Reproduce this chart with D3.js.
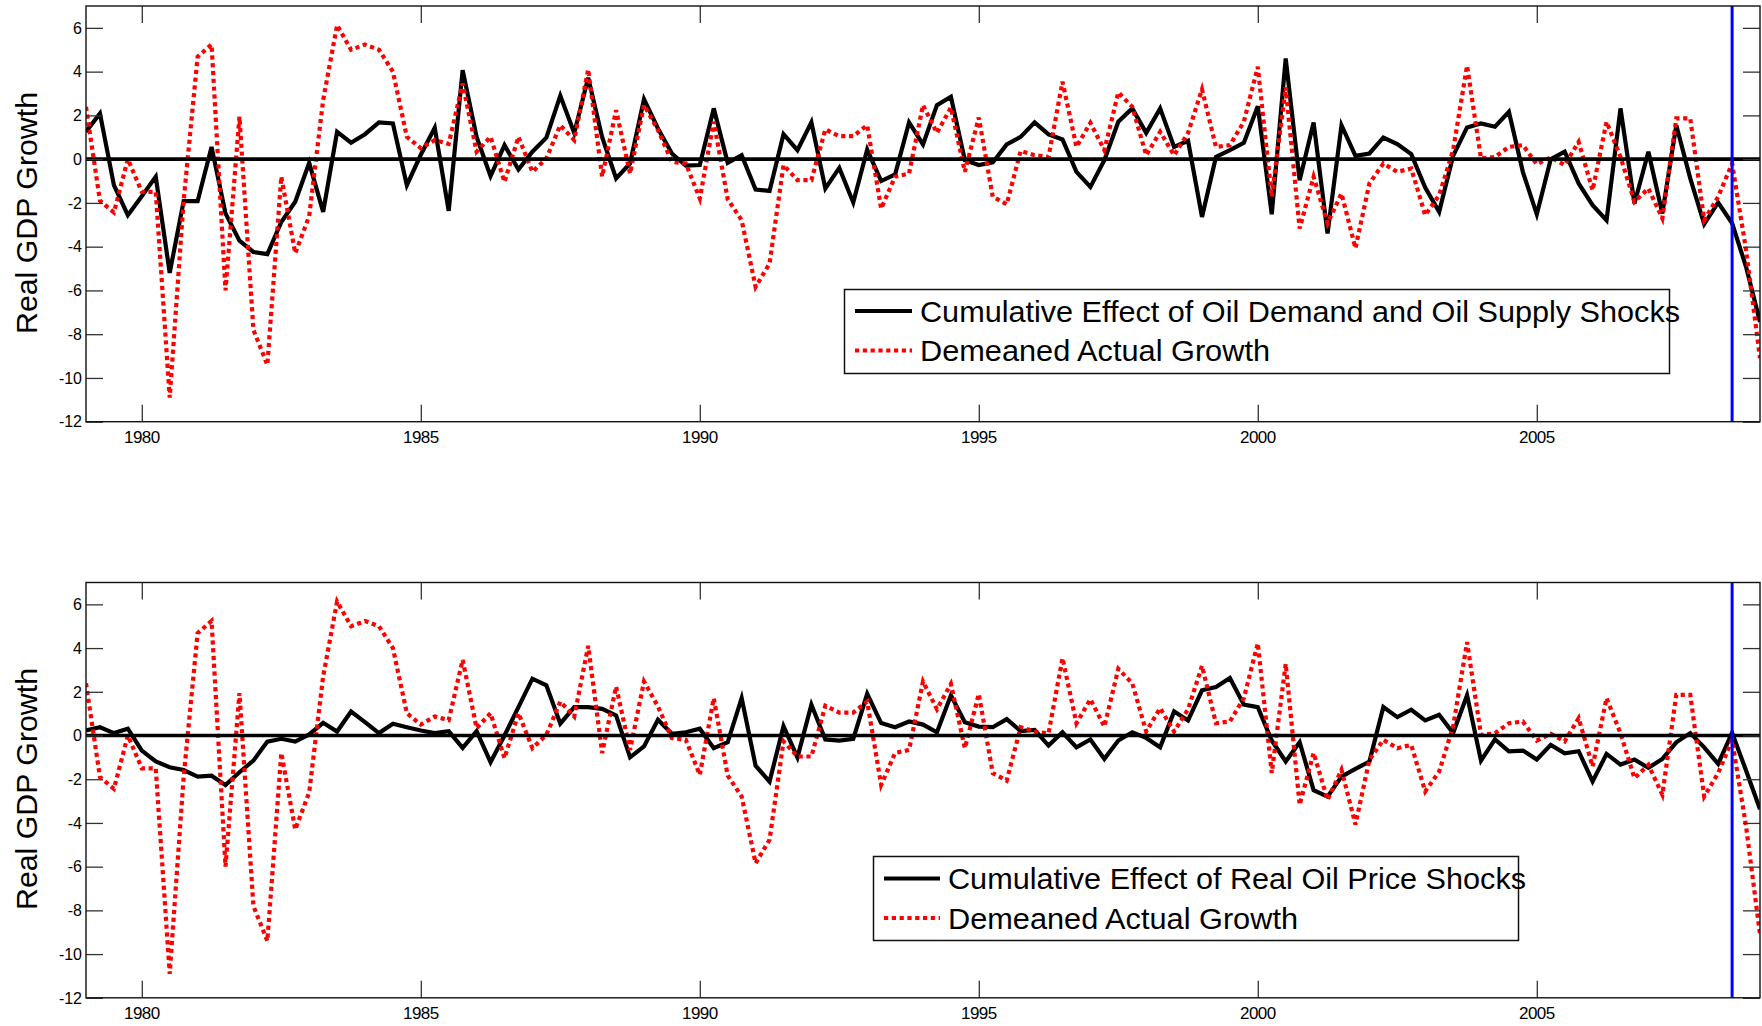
<!DOCTYPE html>
<html><head><meta charset="utf-8">
<script src="https://cdn.jsdelivr.net/npm/d3@7/dist/d3.min.js"></script>
<style>
body{margin:0;background:#fff}
text{font-family:"Liberation Sans",Arial,Helvetica,sans-serif;fill:#000}
</style>
</head><body>
<svg id="chart" width="1762" height="1026"></svg>
<script>
// ---------- data (quarterly, first observation plotted at 1979.0) ----------
const startDate = 1979.0;
const stepYears = 0.25;

const demeanedGrowth = [
  2.39, -1.9, -2.44, 0.0,
  -1.5, -1.5, -10.9, -1.9,
  4.68, 5.24, -6.0, 1.94,
  -7.8, -9.4, -0.8, -4.3,
  -2.6, 2.7, 6.13, 5.0,
  5.24, 5.0, 4.0, 1.02,
  0.5, 0.87, 0.7, 3.46,
  0.34, 1.02, -1.04, 1.02,
  -0.58, 0.03, 1.55, 0.87,
  4.1, -0.8, 2.24, -0.66,
  2.47, 1.33, -0.12, -0.2,
  -1.8, 1.71, -1.83, -2.79,
  -5.84, -4.77, -0.27, -0.96,
  -0.96, 1.36, 1.05, 1.05,
  1.55, -2.26, -0.8, -0.66,
  2.47, 1.2, 2.36, -0.58,
  1.9, -1.72, -2.06, 0.38,
  0.18, 0.1, 3.54, 0.56,
  1.66, 0.41, 3.05, 2.39,
  0.18, 1.25, 0.18, 1.2,
  3.19, 0.56, 0.64, 1.71,
  4.22, -1.72, 3.28, -3.17,
  -0.8, -2.94, -1.57, -4.07,
  -1.11, -0.2, -0.58, -0.43,
  -2.56, -1.65, 0.41, 4.27,
  0.03, 0.1, 0.56, 0.64,
  -0.23, 0.08, -0.27, 0.79,
  -1.42, 1.71, 0.1, -1.95,
  -1.34, -2.71, 1.86, 1.86,
  -2.79, -1.72, -0.2, -4.15,
  -9.1
];

const oilDemandSupplyEffect = [
  1.25, 2.09, -1.19, -2.56,
  -1.7, -0.8, -5.2, -1.92,
  -1.92, 0.56, -2.48, -3.73,
  -4.24, -4.34, -2.87, -1.95,
  -0.17, -2.41, 1.25, 0.75,
  1.14, 1.68, 1.63, -1.19,
  0.2, 1.43, -2.36, 4.07,
  1.02, -0.78, 0.64, -0.47,
  0.34, 0.98, 2.9, 1.2,
  3.72, 1.0, -0.88, -0.2,
  2.74, 1.4, 0.26, -0.3,
  -0.27, 2.32, -0.17, 0.18,
  -1.39, -1.45, 1.14, 0.41,
  1.68, -1.34, -0.4, -1.98,
  0.44, -1.0, -0.7, 1.68,
  0.67, 2.47, 2.85, -0.05,
  -0.27, -0.15, 0.67, 1.02,
  1.68, 1.13, 0.9, -0.58,
  -1.27, -0.05, 1.71, 2.32,
  1.2, 2.32, 0.56, 0.84,
  -2.64, 0.1, 0.41, 0.75,
  2.42, -2.52, 4.6, -0.96,
  1.68, -3.4, 1.55, 0.15,
  0.26, 0.99, 0.69, 0.23,
  -1.3, -2.41, 0.15, 1.45,
  1.63, 1.48, 2.16, -0.58,
  -2.52, 0.0, 0.34, -1.11,
  -2.1, -2.79, 2.32, -2.03,
  0.34, -2.48, 1.55, -0.88,
  -2.97, -1.98, -2.93, -4.92,
  -7.44
];

const realOilPriceEffect = [
  0.23, 0.38, 0.11, 0.31,
  -0.69, -1.19, -1.45, -1.58,
  -1.88, -1.84, -2.27, -1.68,
  -1.15, -0.28, -0.15, -0.28,
  0.05, 0.58, 0.18, 1.1,
  0.61, 0.11, 0.54, 0.38,
  0.23, 0.11, 0.2, -0.57,
  0.2, -1.22, 0.0, 1.3,
  2.6, 2.3, 0.54, 1.3,
  1.3, 1.22, 0.92, -1.0,
  -0.5, 0.72, 0.08, 0.15,
  0.31, -0.58, -0.31, 1.71,
  -1.38, -2.11, 0.43, -1.0,
  1.41, -0.18, -0.23, -0.15,
  1.91, 0.57, 0.38, 0.64,
  0.5, 0.15, 1.84, 0.61,
  0.41, 0.38, 0.75, 0.2,
  0.26, -0.46, 0.15, -0.54,
  -0.18, -1.07, -0.23, 0.15,
  -0.11, -0.54, 1.1, 0.69,
  2.07, 2.22, 2.63, 1.41,
  1.3, -0.23, -1.19, -0.31,
  -2.5, -2.8, -1.88, -1.53,
  -1.19, 1.3, 0.84, 1.18,
  0.69, 0.95, 0.11, 1.84,
  -1.15, -0.18, -0.72, -0.69,
  -1.1, -0.43, -0.81, -0.72,
  -2.1, -0.84, -1.33, -1.1,
  -1.48, -1.07, -0.31, 0.11,
  -0.54, -1.3, 0.12, -1.6,
  -3.37
];

const xTickValues = [1980, 1985, 1990, 1995, 2000, 2005];
const yTickValues = [-12, -10, -8, -6, -4, -2, 0, 2, 4, 6];
const xDomain = [1979, 2009];
const yDomain = [-12, 7];
const markerDate = 2008.5;
const yAxisTitle = "Real GDP Growth";
const legendBlackLabels = ["Cumulative Effect of Oil Demand and Oil Supply Shocks",
                           "Cumulative Effect of Real Oil Price Shocks"];
const legendRedLabel = "Demeaned Actual Growth";

// ---------- layout ----------
const svg = d3.select("#chart");
svg.append("rect").attr("width", 1762).attr("height", 1026).attr("fill", "#fff");

const plotLeft = 86, plotRight = 1760;
const panels = [
  { top: 6, bottom: 421.7, black: oilDemandSupplyEffect, label: legendBlackLabels[0],
    legend: { x: 844.5, y: 289.5, w: 825, h: 84, sx0: 855, sx1: 912, tx: 920, r1: 311, r2: 350.5, t1w: 760, t2w: 350 },
    titleY: 213 },
  { top: 582.5, bottom: 997.8, black: realOilPriceEffect, label: legendBlackLabels[1],
    legend: { x: 873.5, y: 856.5, w: 645, h: 84, sx0: 884, sx1: 940, tx: 948, r1: 878.5, r2: 918, t1w: 578, t2w: 350 },
    titleY: 789 }
];

const dates = demeanedGrowth.map((_, i) => startDate + i * stepYears);
const x = d3.scaleLinear().domain(xDomain).range([plotLeft, plotRight]);

panels.forEach(p => {
  const y = d3.scaleLinear().domain(yDomain).range([p.bottom, p.top]);
  const g = svg.append("g");
  const clipId = "clip" + Math.round(p.top);
  svg.append("clipPath").attr("id", clipId).append("rect")
    .attr("x", plotLeft).attr("y", p.top).attr("width", plotRight - plotLeft).attr("height", p.bottom - p.top);

  const plot = g.append("g").attr("clip-path", `url(#${clipId})`);
  const line = d3.line().x((d, i) => x(dates[i])).y(d => y(d));

  plot.append("path").datum(p.black).attr("d", line)
    .attr("fill", "none").attr("stroke", "#000").attr("stroke-width", 4.2)
    .attr("stroke-linejoin", "miter").attr("stroke-miterlimit", 4);
  plot.append("path").datum(demeanedGrowth).attr("d", line)
    .attr("fill", "none").attr("stroke", "#ff0000").attr("stroke-width", 4.2)
    .attr("stroke-dasharray", "4.2,3.6");
  plot.append("line").attr("x1", x(xDomain[0])).attr("x2", x(xDomain[1]))
    .attr("y1", y(0)).attr("y2", y(0)).attr("stroke", "#000").attr("stroke-width", 3.6);
  plot.append("line").attr("x1", x(markerDate)).attr("x2", x(markerDate))
    .attr("y1", p.top).attr("y2", p.bottom).attr("stroke", "#0000ff").attr("stroke-width", 3);

  // axes (MATLAB style: inward ticks on all four sides)
  const tickLen = 17;
  const axL = d3.axisRight(y).tickValues(yTickValues).tickSize(tickLen).tickFormat("");
  const axR = d3.axisLeft(y).tickValues(yTickValues).tickSize(tickLen).tickFormat("");
  const axB = d3.axisTop(x).tickValues(xTickValues).tickSize(tickLen).tickFormat("");
  const axT = d3.axisBottom(x).tickValues(xTickValues).tickSize(tickLen).tickFormat("");
  [[axL, `translate(${plotLeft},0)`], [axR, `translate(${plotRight},0)`],
   [axB, `translate(0,${p.bottom})`], [axT, `translate(0,${p.top})`]].forEach(([ax, tr]) => {
    const a = g.append("g").attr("transform", tr).call(ax);
    a.select(".domain").remove();
    a.selectAll(".tick line").attr("stroke", "#333").attr("stroke-width", 1.3);
  });
  g.append("rect").attr("x", plotLeft).attr("y", p.top)
    .attr("width", plotRight - plotLeft).attr("height", p.bottom - p.top)
    .attr("fill", "none").attr("stroke", "#111").attr("stroke-width", 1.4);

  // tick labels
  g.selectAll(".ylab").data(yTickValues).enter().append("text")
    .attr("x", plotLeft - 4).attr("y", d => y(d)).attr("dy", "0.36em")
    .attr("text-anchor", "end").attr("font-size", 16).text(d => d);
  g.selectAll(".xlab").data(xTickValues).enter().append("text")
    .attr("x", d => x(d)).attr("y", p.bottom + 15).attr("dy", "0.36em")
    .attr("text-anchor", "middle").attr("font-size", 17).attr("letter-spacing", -0.6).text(d => d);

  // y title
  g.append("text").attr("transform", `translate(26,${p.titleY}) rotate(-90)`)
    .attr("dy", "0.36em").attr("text-anchor", "middle").attr("font-size", 30)
    .attr("textLength", 242).attr("lengthAdjust", "spacingAndGlyphs").text(yAxisTitle);

  // legend
  const L = p.legend;
  g.append("rect").attr("x", L.x).attr("y", L.y).attr("width", L.w).attr("height", L.h)
    .attr("fill", "#fff").attr("stroke", "#111").attr("stroke-width", 1.5);
  g.append("line").attr("x1", L.sx0).attr("x2", L.sx1).attr("y1", L.r1).attr("y2", L.r1)
    .attr("stroke", "#000").attr("stroke-width", 4.2);
  g.append("line").attr("x1", L.sx0).attr("x2", L.sx1).attr("y1", L.r2).attr("y2", L.r2)
    .attr("stroke", "#ff0000").attr("stroke-width", 4.2).attr("stroke-dasharray", "4.2,3.6");
  g.append("text").attr("x", L.tx).attr("y", L.r1).attr("dy", "0.36em").attr("font-size", 30)
    .attr("textLength", L.t1w).attr("lengthAdjust", "spacingAndGlyphs").text(p.label);
  g.append("text").attr("x", L.tx).attr("y", L.r2).attr("dy", "0.36em").attr("font-size", 30)
    .attr("textLength", L.t2w).attr("lengthAdjust", "spacingAndGlyphs").text(legendRedLabel);
});
</script>
</body></html>
